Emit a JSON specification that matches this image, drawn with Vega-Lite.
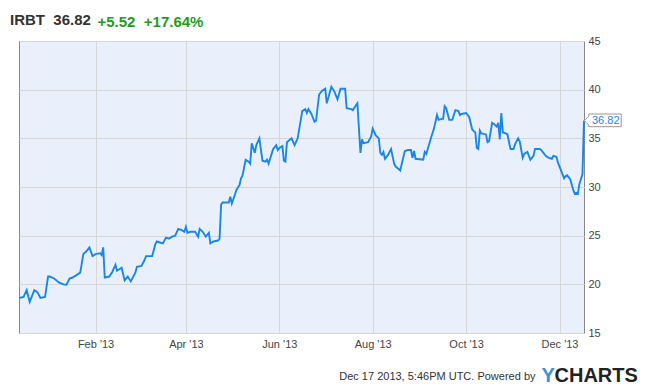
{
  "$schema": "https://vega.github.io/schema/vega-lite/v6.json",
  "width": 565,
  "height": 292,
  "autosize": "none",
  "padding": {"left": 19, "top": 41, "right": 66, "bottom": 55},
  "background": "white",
  "config": {
    "view": {"fill": "#e9f0fb", "stroke": "#888888", "strokeWidth": 1},
    "font": "Liberation Sans"
  },
  "title": {
    "text": "IRBT\u00a0\u00a036.82",
    "anchor": "start",
    "frame": "group",
    "orient": "top",
    "offset": 0,
    "dx": -9,
    "dy": 26,
    "baseline": "alphabetic",
    "font": "Liberation Sans",
    "fontSize": 15,
    "fontWeight": "bold",
    "color": "#333333"
  },
  "datasets": {
    "prices": [
      {"date": "2012-12-13", "price": 18.6},
      {"date": "2012-12-16", "price": 18.7},
      {"date": "2012-12-18", "price": 19.4},
      {"date": "2012-12-20", "price": 18.2},
      {"date": "2012-12-23", "price": 19.4},
      {"date": "2012-12-25", "price": 19.2},
      {"date": "2012-12-27", "price": 18.6},
      {"date": "2012-12-30", "price": 18.7},
      {"date": "2013-01-01", "price": 20.8},
      {"date": "2013-01-02", "price": 20.8},
      {"date": "2013-01-05", "price": 20.6},
      {"date": "2013-01-08", "price": 20.2},
      {"date": "2013-01-11", "price": 20.0},
      {"date": "2013-01-13", "price": 19.95},
      {"date": "2013-01-15", "price": 20.6},
      {"date": "2013-01-17", "price": 20.7},
      {"date": "2013-01-21", "price": 21.1},
      {"date": "2013-01-22", "price": 21.2},
      {"date": "2013-01-24", "price": 23.1},
      {"date": "2013-01-26", "price": 23.4},
      {"date": "2013-01-28", "price": 23.8},
      {"date": "2013-01-30", "price": 22.9},
      {"date": "2013-02-01", "price": 23.1},
      {"date": "2013-02-04", "price": 23.2},
      {"date": "2013-02-05", "price": 23.0},
      {"date": "2013-02-06", "price": 23.8},
      {"date": "2013-02-07", "price": 20.7},
      {"date": "2013-02-10", "price": 20.8},
      {"date": "2013-02-12", "price": 21.3},
      {"date": "2013-02-14", "price": 22.0},
      {"date": "2013-02-15", "price": 21.4},
      {"date": "2013-02-17", "price": 21.6},
      {"date": "2013-02-18", "price": 21.7},
      {"date": "2013-02-20", "price": 20.4},
      {"date": "2013-02-22", "price": 20.8},
      {"date": "2013-02-24", "price": 20.3},
      {"date": "2013-02-27", "price": 21.2},
      {"date": "2013-02-28", "price": 21.8},
      {"date": "2013-03-03", "price": 21.9},
      {"date": "2013-03-05", "price": 22.5},
      {"date": "2013-03-06", "price": 22.9},
      {"date": "2013-03-08", "price": 22.9},
      {"date": "2013-03-10", "price": 22.9},
      {"date": "2013-03-12", "price": 24.1},
      {"date": "2013-03-13", "price": 24.4},
      {"date": "2013-03-15", "price": 24.3},
      {"date": "2013-03-17", "price": 24.2},
      {"date": "2013-03-19", "price": 24.8},
      {"date": "2013-03-21", "price": 24.7},
      {"date": "2013-03-23", "price": 24.9},
      {"date": "2013-03-25", "price": 25.0},
      {"date": "2013-03-27", "price": 25.7},
      {"date": "2013-03-29", "price": 25.6},
      {"date": "2013-03-31", "price": 25.4},
      {"date": "2013-04-01", "price": 25.9},
      {"date": "2013-04-02", "price": 25.3},
      {"date": "2013-04-04", "price": 25.4},
      {"date": "2013-04-07", "price": 25.4},
      {"date": "2013-04-09", "price": 24.9},
      {"date": "2013-04-10", "price": 25.7},
      {"date": "2013-04-12", "price": 25.4},
      {"date": "2013-04-14", "price": 24.9},
      {"date": "2013-04-16", "price": 25.3},
      {"date": "2013-04-17", "price": 24.2},
      {"date": "2013-04-19", "price": 24.4},
      {"date": "2013-04-22", "price": 24.5},
      {"date": "2013-04-23", "price": 24.7},
      {"date": "2013-04-24", "price": 28.2},
      {"date": "2013-04-25", "price": 28.4},
      {"date": "2013-04-27", "price": 28.4},
      {"date": "2013-04-29", "price": 28.4},
      {"date": "2013-04-30", "price": 29.0},
      {"date": "2013-05-01", "price": 28.3},
      {"date": "2013-05-03", "price": 29.2},
      {"date": "2013-05-04", "price": 29.7},
      {"date": "2013-05-06", "price": 30.2},
      {"date": "2013-05-07", "price": 30.9},
      {"date": "2013-05-08", "price": 31.2},
      {"date": "2013-05-10", "price": 32.8},
      {"date": "2013-05-12", "price": 32.6},
      {"date": "2013-05-13", "price": 32.4},
      {"date": "2013-05-14", "price": 34.5},
      {"date": "2013-05-16", "price": 33.5},
      {"date": "2013-05-17", "price": 34.3},
      {"date": "2013-05-19", "price": 35.0},
      {"date": "2013-05-21", "price": 32.7},
      {"date": "2013-05-23", "price": 32.6},
      {"date": "2013-05-24", "price": 32.8},
      {"date": "2013-05-25", "price": 32.4},
      {"date": "2013-05-27", "price": 33.4},
      {"date": "2013-05-28", "price": 33.9},
      {"date": "2013-05-30", "price": 34.3},
      {"date": "2013-05-31", "price": 33.8},
      {"date": "2013-06-01", "price": 34.0},
      {"date": "2013-06-03", "price": 34.2},
      {"date": "2013-06-04", "price": 32.7},
      {"date": "2013-06-05", "price": 32.6},
      {"date": "2013-06-06", "price": 34.6},
      {"date": "2013-06-09", "price": 35.0},
      {"date": "2013-06-11", "price": 34.3},
      {"date": "2013-06-13", "price": 35.0},
      {"date": "2013-06-16", "price": 37.8},
      {"date": "2013-06-18", "price": 38.0},
      {"date": "2013-06-19", "price": 37.6},
      {"date": "2013-06-20", "price": 38.0},
      {"date": "2013-06-22", "price": 37.5},
      {"date": "2013-06-24", "price": 36.7},
      {"date": "2013-06-25", "price": 36.8},
      {"date": "2013-06-27", "price": 39.5},
      {"date": "2013-06-29", "price": 39.9},
      {"date": "2013-07-01", "price": 40.1},
      {"date": "2013-07-02", "price": 38.6},
      {"date": "2013-07-05", "price": 40.3},
      {"date": "2013-07-07", "price": 39.8},
      {"date": "2013-07-09", "price": 39.0},
      {"date": "2013-07-11", "price": 40.1},
      {"date": "2013-07-14", "price": 40.1},
      {"date": "2013-07-15", "price": 38.1},
      {"date": "2013-07-18", "price": 38.0},
      {"date": "2013-07-19", "price": 37.9},
      {"date": "2013-07-22", "price": 38.6},
      {"date": "2013-07-24", "price": 33.5},
      {"date": "2013-07-25", "price": 34.9},
      {"date": "2013-07-26", "price": 34.5},
      {"date": "2013-07-29", "price": 34.6},
      {"date": "2013-07-31", "price": 35.2},
      {"date": "2013-08-01", "price": 36.0},
      {"date": "2013-08-03", "price": 35.3},
      {"date": "2013-08-05", "price": 35.0},
      {"date": "2013-08-06", "price": 33.5},
      {"date": "2013-08-07", "price": 33.3},
      {"date": "2013-08-08", "price": 33.6},
      {"date": "2013-08-09", "price": 32.9},
      {"date": "2013-08-11", "price": 33.3},
      {"date": "2013-08-13", "price": 33.9},
      {"date": "2013-08-15", "price": 32.4},
      {"date": "2013-08-16", "price": 32.1},
      {"date": "2013-08-19", "price": 31.7},
      {"date": "2013-08-20", "price": 32.4},
      {"date": "2013-08-22", "price": 33.7},
      {"date": "2013-08-24", "price": 33.8},
      {"date": "2013-08-26", "price": 33.8},
      {"date": "2013-08-27", "price": 33.0},
      {"date": "2013-08-28", "price": 33.7},
      {"date": "2013-08-29", "price": 32.9},
      {"date": "2013-09-03", "price": 32.8},
      {"date": "2013-09-04", "price": 33.6},
      {"date": "2013-09-05", "price": 33.4},
      {"date": "2013-09-08", "price": 35.0},
      {"date": "2013-09-10", "price": 36.0},
      {"date": "2013-09-12", "price": 37.4},
      {"date": "2013-09-13", "price": 36.9},
      {"date": "2013-09-15", "price": 37.0},
      {"date": "2013-09-16", "price": 37.0},
      {"date": "2013-09-17", "price": 38.3},
      {"date": "2013-09-18", "price": 38.1},
      {"date": "2013-09-20", "price": 36.9},
      {"date": "2013-09-22", "price": 36.9},
      {"date": "2013-09-24", "price": 37.9},
      {"date": "2013-09-26", "price": 37.8},
      {"date": "2013-09-27", "price": 37.4},
      {"date": "2013-09-28", "price": 37.5},
      {"date": "2013-10-01", "price": 37.6},
      {"date": "2013-10-03", "price": 37.2},
      {"date": "2013-10-05", "price": 35.9},
      {"date": "2013-10-07", "price": 35.6},
      {"date": "2013-10-08", "price": 34.0},
      {"date": "2013-10-09", "price": 33.9},
      {"date": "2013-10-10", "price": 35.8},
      {"date": "2013-10-11", "price": 35.5},
      {"date": "2013-10-14", "price": 35.4},
      {"date": "2013-10-15", "price": 34.6},
      {"date": "2013-10-16", "price": 34.7},
      {"date": "2013-10-18", "price": 36.6},
      {"date": "2013-10-19", "price": 36.5},
      {"date": "2013-10-21", "price": 36.2},
      {"date": "2013-10-22", "price": 36.6},
      {"date": "2013-10-23", "price": 34.9},
      {"date": "2013-10-24", "price": 37.6},
      {"date": "2013-10-25", "price": 35.6},
      {"date": "2013-10-27", "price": 35.5},
      {"date": "2013-10-28", "price": 35.4},
      {"date": "2013-10-30", "price": 33.9},
      {"date": "2013-11-01", "price": 33.9},
      {"date": "2013-11-02", "price": 34.4},
      {"date": "2013-11-04", "price": 35.0},
      {"date": "2013-11-05", "price": 34.7},
      {"date": "2013-11-07", "price": 33.0},
      {"date": "2013-11-08", "price": 33.4},
      {"date": "2013-11-10", "price": 33.6},
      {"date": "2013-11-12", "price": 32.8},
      {"date": "2013-11-14", "price": 33.2},
      {"date": "2013-11-15", "price": 33.9},
      {"date": "2013-11-18", "price": 33.9},
      {"date": "2013-11-19", "price": 33.8},
      {"date": "2013-11-22", "price": 33.2},
      {"date": "2013-11-24", "price": 33.0},
      {"date": "2013-11-26", "price": 32.9},
      {"date": "2013-11-27", "price": 33.2},
      {"date": "2013-11-29", "price": 33.1},
      {"date": "2013-11-30", "price": 32.5},
      {"date": "2013-12-02", "price": 31.7},
      {"date": "2013-12-04", "price": 30.9},
      {"date": "2013-12-05", "price": 31.1},
      {"date": "2013-12-06", "price": 31.2},
      {"date": "2013-12-08", "price": 30.8},
      {"date": "2013-12-10", "price": 29.7},
      {"date": "2013-12-11", "price": 29.3},
      {"date": "2013-12-12", "price": 29.4},
      {"date": "2013-12-13", "price": 29.3},
      {"date": "2013-12-14", "price": 30.3},
      {"date": "2013-12-16", "price": 31.3},
      {"date": "2013-12-17", "price": 36.82}
    ],
    "last": [
      {"date": "2013-12-17", "price": 36.82, "label": "36.82"}
    ]
  },
  "layer": [
    {
      "data": {"name": "prices"},
      "mark": {"type": "line", "color": "#1a87e6", "strokeWidth": 1.9},
      "encoding": {
        "x": {
          "field": "date",
          "type": "temporal",
          "scale": {"domain": [{"year": 2012, "month": 12, "date": 13}, {"year": 2013, "month": 12, "date": 17}]},
          "axis": {
            "values": [
              {"year": 2013, "month": 2, "date": 1},
              {"year": 2013, "month": 4, "date": 1},
              {"year": 2013, "month": 6, "date": 1},
              {"year": 2013, "month": 8, "date": 1},
              {"year": 2013, "month": 10, "date": 1},
              {"year": 2013, "month": 12, "date": 1}
            ],
            "format": "%b '%y",
            "grid": true,
            "gridColor": "#d6d6d6",
            "gridWidth": 1,
            "domain": false,
            "ticks": false,
            "tickSize": 0,
            "labelPadding": 5,
            "labelFlush": false,
            "labelFont": "Liberation Sans",
            "labelFontSize": 11,
            "labelColor": "#444444",
            "title": "Dec 17 2013, 5:46PM UTC. Powered by",
            "titleX": 516,
            "titleY": 46,
            "titleAlign": "right",
            "titleAngle": 0,
            "titleBaseline": "alphabetic",
            "titleFont": "Liberation Sans",
            "titleFontSize": 11,
            "titleFontWeight": "normal",
            "titleColor": "#333333"
          }
        },
        "y": {
          "field": "price",
          "type": "quantitative",
          "scale": {"domain": [15, 45], "nice": false, "zero": false},
          "axis": {
            "orient": "right",
            "values": [15, 20, 25, 30, 35, 40, 45],
            "grid": true,
            "gridColor": "#d6d6d6",
            "gridWidth": 1,
            "domain": false,
            "ticks": false,
            "tickSize": 0,
            "labelPadding": 4,
            "labelFlush": false,
            "labelFont": "Liberation Sans",
            "labelFontSize": 11,
            "labelColor": "#444444",
            "title": "+5.52\u00a0\u00a0+17.64%",
            "titleX": -487,
            "titleY": -15,
            "titleAngle": 0,
            "titleAlign": "left",
            "titleBaseline": "alphabetic",
            "titleFont": "Liberation Sans",
            "titleFontSize": 15,
            "titleFontWeight": "bold",
            "titleColor": "#1e9c1e"
          }
        }
      }
    },
    {
      "data": {"name": "last"},
      "mark": {
        "type": "point",
        "shape": "M0,0L0.48,-0.43L0.48,-0.66L3.72,-0.66L3.72,0.61L0.48,0.61L0.48,0.43Z",
        "size": 400,
        "filled": true,
        "fill": "white",
        "stroke": "#999999",
        "strokeWidth": 1,
        "opacity": 1
      },
      "encoding": {
        "x": {"field": "date", "type": "temporal", "axis": null},
        "y": {
          "field": "price",
          "type": "quantitative",
          "axis": {
            "orient": "left",
            "grid": false,
            "domain": false,
            "ticks": false,
            "labels": false,
            "title": "Y",
            "titleX": 522,
            "titleY": 340,
            "titleAngle": 0,
            "titleAlign": "left",
            "titleBaseline": "alphabetic",
            "titleFont": "Liberation Sans",
            "titleFontSize": 20,
            "titleFontWeight": "bold",
            "titleColor": "#3d8fe0"
          }
        }
      }
    },
    {
      "data": {"name": "last"},
      "mark": {"type": "text", "align": "left", "baseline": "middle", "dx": 8, "font": "Liberation Sans", "fontSize": 11, "color": "#1a87e6"},
      "encoding": {
        "x": {
          "field": "date",
          "type": "temporal",
          "axis": {
            "orient": "top",
            "grid": false,
            "domain": false,
            "ticks": false,
            "labels": false,
            "title": "CHARTS",
            "titleX": 535,
            "titleY": 340,
            "titleAngle": 0,
            "titleAlign": "left",
            "titleBaseline": "alphabetic",
            "titleFont": "Liberation Sans",
            "titleFontSize": 20,
            "titleFontWeight": "bold",
            "titleColor": "#222222"
          }
        },
        "y": {"field": "price", "type": "quantitative", "axis": null},
        "text": {"field": "label"}
      }
    }
  ],
  "resolve": {"axis": {"x": "independent", "y": "independent"}}
}
